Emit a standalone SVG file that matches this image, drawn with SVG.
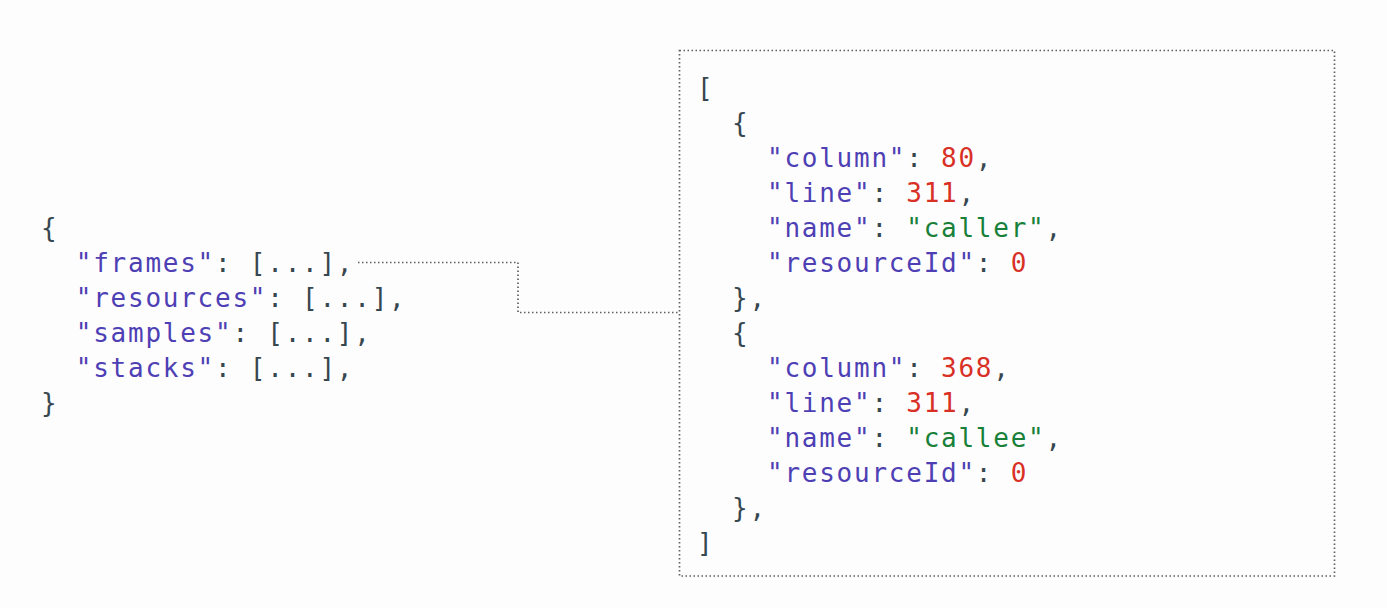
<svg xmlns="http://www.w3.org/2000/svg" width="1387" height="608" viewBox="0 0 1387 608">
<style>
text{font-family:"DejaVu Sans Mono","Liberation Mono",monospace;font-size:26px;letter-spacing:1.75px;fill:#37474f;white-space:pre}
.k{fill:#4e3fb4}
.n{fill:#d93025}
.s{fill:#188038}
.dot{fill:none;stroke:#5f5f5f;stroke-width:1.7;stroke-dasharray:1.5 2.5}
</style>
<rect width="1387" height="608" fill="#fdfdfe"/>
<g id="connectors">
<path class="dot" d="M358 262.5 H518 V312.5 H680"/>
</g>
<g id="root-object">
<text x="41" y="237">{</text>
<text x="75.8" y="272"><tspan class="k">"frames"</tspan>: [...],</text>
<text x="75.8" y="307"><tspan class="k">"resources"</tspan>: [...],</text>
<text x="75.8" y="342"><tspan class="k">"samples"</tspan>: [...],</text>
<text x="75.8" y="377"><tspan class="k">"stacks"</tspan>: [...],</text>
<text x="41" y="412">}</text>
</g>
<g id="frames-array">
<rect class="dot" x="679.5" y="50.5" width="655" height="525.5"/>
<text x="697" y="97">[</text>
<text x="732" y="132">{</text>
<text x="767" y="167"><tspan class="k">"column"</tspan>: <tspan class="n">80</tspan>,</text>
<text x="767" y="202"><tspan class="k">"line"</tspan>: <tspan class="n">311</tspan>,</text>
<text x="767" y="237"><tspan class="k">"name"</tspan>: <tspan class="s">"caller"</tspan>,</text>
<text x="767" y="272"><tspan class="k">"resourceId"</tspan>: <tspan class="n">0</tspan></text>
<text x="732" y="307">},</text>
<text x="732" y="342">{</text>
<text x="767" y="377"><tspan class="k">"column"</tspan>: <tspan class="n">368</tspan>,</text>
<text x="767" y="412"><tspan class="k">"line"</tspan>: <tspan class="n">311</tspan>,</text>
<text x="767" y="447"><tspan class="k">"name"</tspan>: <tspan class="s">"callee"</tspan>,</text>
<text x="767" y="482"><tspan class="k">"resourceId"</tspan>: <tspan class="n">0</tspan></text>
<text x="732" y="517">},</text>
<text x="697" y="552">]</text>
</g>
</svg>
